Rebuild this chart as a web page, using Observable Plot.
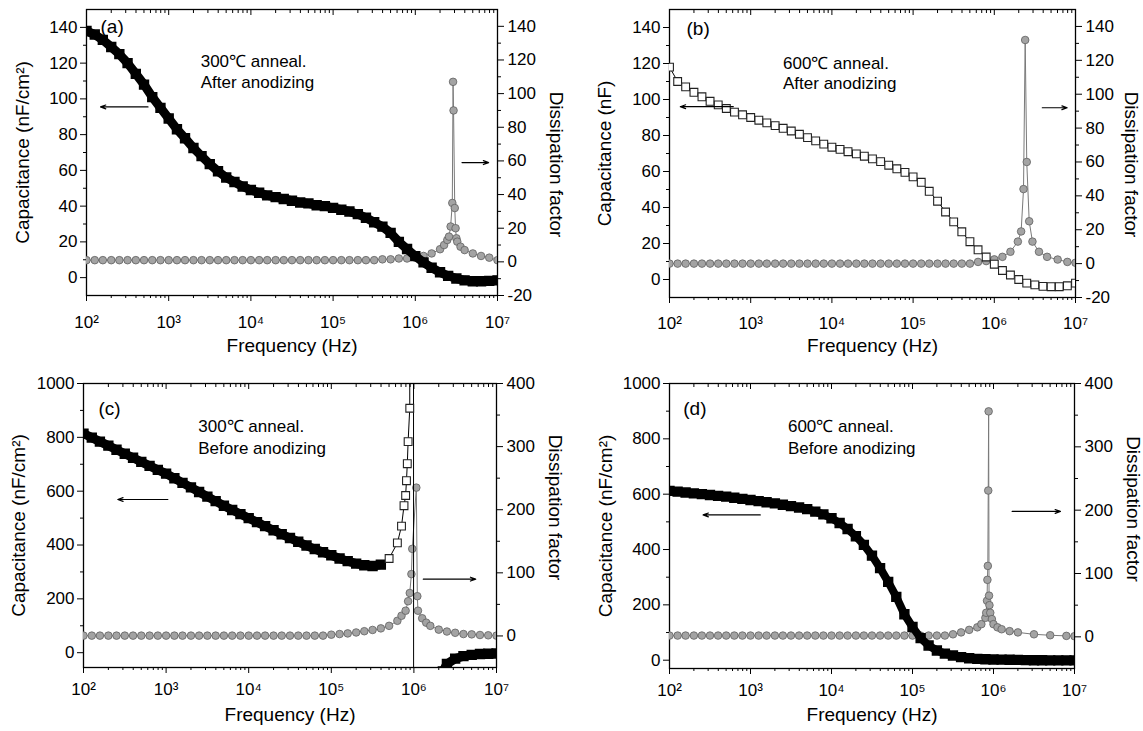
<!DOCTYPE html>
<html><head><meta charset="utf-8">
<script src="https://cdn.jsdelivr.net/npm/d3@7"></script>
<script src="https://cdn.jsdelivr.net/npm/@observablehq/plot@0.6"></script>
<style>
html,body{margin:0;padding:0;background:#fff;}
#fig{position:relative;width:1143px;height:731px;overflow:hidden;background:#fff;}
#fig > div{position:absolute;}
svg{overflow:visible;}
</style></head><body><div id="fig"></div>
<script>
// ---------- data ----------
const freq = [1e2,1.26e2,1.58e2,2e2,2.51e2,3.16e2,3.98e2,5.01e2,6.31e2,7.94e2,
  1e3,1.26e3,1.58e3,2e3,2.51e3,3.16e3,3.98e3,5.01e3,6.31e3,7.94e3,
  1e4,1.26e4,1.58e4,2e4,2.51e4,3.16e4,3.98e4,5.01e4,6.31e4,7.94e4,
  1e5,1.26e5,1.58e5,2e5,2.51e5,3.16e5,3.98e5,5.01e5,6.31e5,7.94e5,
  1e6,1.26e6,1.58e6,2e6,2.51e6,3.16e6,3.98e6,5.01e6,6.31e6,7.94e6,1e7];

const capA = [138,136,133,129,125,120,114,108,101,95,
  89,83,78,72.5,68,63.5,59.5,56,53.5,51,
  49,47.5,46,45,44,43,42,41.5,40.5,40,
  39,38,37,35.5,33.5,31,28.5,25,20,16,
  12,8.5,5.5,3,1,-0.5,-1.5,-2,-2,-1.8,-1.5];

const capB = [118,110,107,104,101.5,99,97,95,93,91.5,
  90,88.5,87,85.5,84,82.5,80.7,78.8,77,75.2,
  73.5,72.3,71,69.8,68.5,67,65.5,63.5,61.5,59.5,
  57,54,49,43.5,37.5,32,26.5,21,16.5,12.5,
  8.5,5,2.5,0,-2,-3,-3.8,-4,-4,-3.5,-2];

const capD = [612,609,606,603,600,597,594,591,587,583,
  579,575,571,567,562,557,552,546,537,527,
  513,496,474,448,417,378,333,283,229,166,
  120,80,53,35,24,17,11,7,5,3.5,
  2.5,2,1.5,1,0.5,0,0,-0.5,-0.5,-0.5,-0.5];

const capCFreq = [1e2,1.26e2,1.58e2,2e2,2.51e2,3.16e2,3.98e2,5.01e2,6.31e2,7.94e2,
  1e3,1.26e3,1.58e3,2e3,2.51e3,3.16e3,3.98e3,5.01e3,6.31e3,7.94e3,
  1e4,1.26e4,1.58e4,2e4,2.51e4,3.16e4,3.98e4,5.01e4,6.31e4,7.94e4,
  1e5,1.26e5,1.58e5,2e5,2.51e5,3.16e5,3.98e5,5.01e5,6.31e5,
  7.08e5,7.59e5,7.94e5,8.13e5,8.32e5,8.51e5,8.91e5,9.12e5,1e6,1.26e6,
  1.58e6,2e6,2.24e6,2.51e6,3.16e6,3.98e6,5.01e6,6.31e6,7.94e6,1e7];
const capC = [814,799,784,769,754,739,724,709,694,679,
  665,648,631,614,597,580,563,546,530,515,
  500,485,470,455,440,426,412,398,385,373,
  362,350,340,331,325,322,327,350,408,
  470,546,584,639,702,784,908,40000,-4000,-1500,
  -500,-150,-70,-42,-22,-13,-8,-5,-4,-3];

const dissAFreq = [1e2,1.26e2,1.58e2,2e2,2.51e2,3.16e2,3.98e2,5.01e2,6.31e2,7.94e2,
  1e3,1.26e3,1.58e3,2e3,2.51e3,3.16e3,3.98e3,5.01e3,6.31e3,7.94e3,
  1e4,1.26e4,1.58e4,2e4,2.51e4,3.16e4,3.98e4,5.01e4,6.31e4,7.94e4,
  1e5,1.26e5,1.58e5,2e5,2.51e5,3.16e5,3.98e5,5.01e5,6.31e5,7.94e5,
  1e6,1.26e6,1.58e6,2e6,2.24e6,2.45e6,2.57e6,2.69e6,2.82e6,2.88e6,
  2.92e6,3.02e6,3.09e6,3.16e6,3.24e6,3.55e6,3.98e6,5.01e6,6.31e6,7.94e6,1e7];
const dissA = [1,1,1,1,1,1,1,1,1,1,
  1,1,1,1,1,1,1,1,1,1,
  1,1,1,1,1,1,1,1,1,1,
  1,1,1,1,1,1,1.5,1.5,2,2,
  2.5,3.5,5,7.5,10,13,15,21,35,107,
  90,32,20,14,12,9,7,5,3.5,2.5,1];

const dissBFreq = [1e2,1.26e2,1.58e2,2e2,2.51e2,3.16e2,3.98e2,5.01e2,6.31e2,7.94e2,
  1e3,1.26e3,1.58e3,2e3,2.51e3,3.16e3,3.98e3,5.01e3,6.31e3,7.94e3,
  1e4,1.26e4,1.58e4,2e4,2.51e4,3.16e4,3.98e4,5.01e4,6.31e4,7.94e4,
  1e5,1.26e5,1.58e5,2e5,2.51e5,3.16e5,3.98e5,5.01e5,6.31e5,7.94e5,
  1e6,1.26e6,1.58e6,1.95e6,2.14e6,2.29e6,2.4e6,2.51e6,2.69e6,2.95e6,
  3.55e6,4.47e6,6.03e6,7.94e6,1e7];
const dissB = [0,0,0,0,0,0,0,0,0,0,
  0,0,0,0,0,0,0,0,0,0,
  0,0,0,0,0,0,0,0,0,0,
  0,0,0,0,0,0,0,0,1,1.5,
  2.5,4,7,13,19,44,132,60,25,13,
  7,4,2.4,1,0.5];

const dissCFreq = [1e2,1.26e2,1.58e2,2e2,2.51e2,3.16e2,3.98e2,5.01e2,6.31e2,7.94e2,
  1e3,1.26e3,1.58e3,2e3,2.51e3,3.16e3,3.98e3,5.01e3,6.31e3,7.94e3,
  1e4,1.26e4,1.58e4,2e4,2.51e4,3.16e4,3.98e4,5.01e4,6.31e4,7.94e4,
  1e5,1.26e5,1.58e5,2e5,2.51e5,3.16e5,3.98e5,5.01e5,6.31e5,
  7.08e5,7.94e5,8.51e5,8.91e5,9.33e5,9.55e5,1.07e6,1.10e6,1.12e6,1.26e6,
  1.41e6,1.58e6,2e6,2.51e6,3.16e6,3.98e6,5.01e6,6.31e6,7.94e6,1e7];
const dissC = [0.5,0.5,0.5,0.5,0.5,0.5,0.5,0.5,0.5,0.5,
  0.5,0.5,0.5,0.5,0.5,0.5,0.5,0.5,0.5,0.5,
  0.5,0.5,0.5,0.5,0.5,0.5,0.5,0.5,0.5,0.5,
  2,3,4,5.5,7.5,9.5,12,16,24,
  32,40,55,68,98,138,235,63,40,28,
  21,16,10,7,5,3,2.5,1.5,1,0.5];

const dissDFreq = [1e2,1.26e2,1.58e2,2e2,2.51e2,3.16e2,3.98e2,5.01e2,6.31e2,7.94e2,
  1e3,1.26e3,1.58e3,2e3,2.51e3,3.16e3,3.98e3,5.01e3,6.31e3,7.94e3,
  1e4,1.26e4,1.58e4,2e4,2.51e4,3.16e4,3.98e4,5.01e4,6.31e4,7.94e4,
  1e5,1.26e5,1.58e5,2e5,2.51e5,3.16e5,3.98e5,5.01e5,6.31e5,
  7.08e5,7.94e5,8.13e5,8.32e5,8.41e5,8.51e5,8.61e5,8.71e5,8.81e5,8.91e5,
  9.12e5,9.55e5,1e6,1.12e6,1.26e6,1.58e6,2e6,3.16e6,5.01e6,7.94e6,1e7];
const dissD = [2,2,2,2,2,2,2,2,2,2,
  2,2,2,2,2,2,2,2,2,2,
  2,2,2,2,2,2,2,2,2,2,
  2,2,2,2,2,4,7,11,15,
  20,30,38,57,90,112,231,356,65,50,
  38,28,20,15,12,9,7,4,2.5,1.5,1];

// ticks and labels
const xTicks = [1e2,1e3,1e4,1e5,1e6,1e7];
const xTickLabels = ["10²","10³","10⁴","10⁵","10⁶","10⁷"];
const capTicksAB = [0,20,40,60,80,100,120,140];
const capMinorAB = [10,30,50,70,90,110,130];
const dissTicksAB = [-20,0,20,40,60,80,100,120,140];
const dissMinorAB = [-10,10,30,50,70,90,110,130];
const capTicksCD = [0,200,400,600,800,1000];
const capMinorCD = [100,300,500,700,900];
const dissTicksCD = [0,100,200,300,400];
const dissMinorCD = [50,150,250,350];

const panelLetters = ["(a)","(b)","(c)","(d)"];
const annealText = ["300℃ anneal.","600℃ anneal.","300℃ anneal.","600℃ anneal."];
const stateText = ["After anodizing","After anodizing","Before anodizing","Before anodizing"];
const capTitles = ["Capacitance (nF/cm²)","Capacitance (nF)","Capacitance (nF/cm²)","Capacitance (nF/cm²)"];
const dissTitle = "Dissipation factor";
const freqTitle = "Frequency (Hz)";

// annotation anchor positions in data units (frequency, left-axis value)
const letterPos = [[1.48e2,140],[1.62e2,139],[1.52e2,907],[1.48e2,909]];
const notePos = [[2.45e3,121,109],[2.5e3,120,109],[2.45e3,840,758],[2.9e3,844,764]];
// arrows: from-frequency, to-frequency, value, axis
const arrowsA = [{from:5.6e2,to:1.48e2,v:95.5,axis:"L"},{from:3.7e6,to:7.8e6,v:59,axis:"R"}];
const arrowsB = [{from:6.1e2,to:1.36e2,v:96,axis:"L"},{from:3.9e6,to:7.9e6,v:92,axis:"R"}];
const arrowsC = [{from:1.05e3,to:2.6e2,v:569,axis:"L"},{from:1.3e6,to:5.6e6,v:90,axis:"R"}];
const arrowsD = [{from:1.32e3,to:2.6e2,v:525,axis:"L"},{from:1.7e6,to:6.7e6,v:198,axis:"R"}];

// ---------- drawing ----------
const FONT = '"Liberation Sans", Arial, Helvetica, sans-serif';
const xMinor = xTicks.slice(0,-1).flatMap(d => [2,3,4,5,6,7,8,9].map(m => m*d));
const xLabelMap = new Map(xTicks.map((d,i) => [d, xTickLabels[i]]));

function drawPanel(c) {
  const k = (c.L[1]-c.L[0])/(c.R[1]-c.R[0]);
  const toL = v => c.L[0] + (v - c.R[0]) * k;
  const fromL = y => c.R[0] + (y - c.L[0]) / k;
  const cap = c.capF.map((f,i) => ({f, v: c.capV[i], open: f >= c.open[0] && f <= c.open[1]}));
  const diss = c.dissF.map((f,i) => ({f, v: toL(c.dissV[i])}));
  const arrows = c.arrows.map(a => ({x1: a.from, x2: a.to, y: a.axis === "R" ? toL(a.v) : a.v}));
  const lp = letterPos[c.i], np = notePos[c.i];
  const rt = c.Rticks.map(toL), rm = c.Rminor.map(toL);
  return Plot.plot({
    width: c.w, height: c.h,
    marginTop: c.m[0], marginRight: c.m[1], marginBottom: c.m[2], marginLeft: c.m[3],
    x: {type: "log", domain: [1e2, 1e7]},
    y: {domain: c.L},
    style: {fontFamily: FONT, fontSize: "17px", color: "#000", background: "transparent", overflow: "visible"},
    marks: [
      Plot.axisX(xMinor, {anchor: "bottom", tickSize: 3, tickFormat: () => "", label: null}),
      Plot.axisX(xTicks, {anchor: "bottom", tickSize: 6, tickPadding: c.xpad, tickFormat: d => xLabelMap.get(d), label: null}),
      Plot.axisX(xMinor, {anchor: "top", tickSize: -3, tickFormat: () => "", label: null}),
      Plot.axisX(xTicks, {anchor: "top", tickSize: -5, tickFormat: () => "", label: null}),
      Plot.axisY(c.Lminor, {anchor: "left", tickSize: 3, tickFormat: () => "", label: null}),
      Plot.axisY(c.Lticks, {anchor: "left", tickSize: 6, tickPadding: 3, tickFormat: d => String(d), label: null}),
      Plot.axisY(rm, {anchor: "right", tickSize: 3, tickFormat: () => "", label: null}),
      Plot.axisY(rt, {anchor: "right", tickSize: 6, tickPadding: 4, tickFormat: d => String(Math.round(fromL(d))), label: null}),
      Plot.frame({stroke: "#000", strokeWidth: 1.3}),
      Plot.line(diss, {x: "f", y: "v", stroke: "#7a7a7a", strokeWidth: 1, clip: true}),
      Plot.dot(diss, {x: "f", y: "v", r: 3.8, fill: "#a3a3a3", stroke: "#606060", strokeWidth: 0.8, clip: true}),
      Plot.line(cap, {x: "f", y: "v", stroke: "#000", strokeWidth: 1, clip: true}),
      Plot.line(cap, {x: "f", y: d => d.open ? NaN : d.v, stroke: "#000", strokeWidth: c.band, clip: true}),
      Plot.dot(cap.filter(d => !d.open), {x: "f", y: "v", symbol: "square", r: 5, fill: "#000", stroke: "#000", clip: true}),
      Plot.dot(cap.filter(d => d.open), {x: "f", y: "v", symbol: "square", r: 4.4, fill: "#fff", stroke: "#222", strokeWidth: 1.1, clip: true}),
      Plot.arrow(arrows, {x1: "x1", x2: "x2", y1: "y", y2: "y", stroke: "#000", strokeWidth: 1.2, headLength: 7, headAngle: 40}),
      Plot.text([panelLetters[c.i]], {x: () => lp[0], y: () => lp[1], text: d => d, textAnchor: "start", fontSize: 19}),
      Plot.text([annealText[c.i], stateText[c.i]], {x: () => np[0], y: (d,i) => np[1+i], text: d => d, textAnchor: "start", fontSize: 17}),
      Plot.text([capTitles[c.i]], {frameAnchor: "left", rotate: -90, textAnchor: "middle", dx: c.ldx, text: d => d, fontSize: 19}),
      Plot.text([dissTitle], {frameAnchor: "right", rotate: 90, textAnchor: "middle", dx: c.rdx, dy: c.rdy, text: d => d, fontSize: 19}),
      Plot.text([freqTitle], {frameAnchor: "bottom", textAnchor: "middle", dy: c.xdy, text: d => d, fontSize: 19})
    ]
  });
}

const panels = [
  {i:0, left:0, top:0, w:571, h:362, m:[9,74,67,86], L:[-10,150], R:[-20,150],
   capF:freq, capV:capA, dissF:dissAFreq, dissV:dissA, open:[Infinity,Infinity], band:9,
   Lticks:capTicksAB, Lminor:capMinorAB, Rticks:dissTicksAB, Rminor:dissMinorAB,
   arrows:arrowsA, xpad:14, ldx:-64, rdx:59, rdy:12, xdy:56},
  {i:1, left:571, top:0, w:572, h:362, m:[9,68,65,98], L:[-10,150], R:[-20,150],
   capF:freq, capV:capB, dissF:dissBFreq, dissV:dissB, open:[0,Infinity], band:1,
   Lticks:capTicksAB, Lminor:capMinorAB, Rticks:dissTicksAB, Rminor:dissMinorAB,
   arrows:arrowsB, xpad:13, ldx:-65, rdx:56, rdy:11, xdy:54},
  {i:2, left:0, top:362, w:571, h:369, m:[21,75,64,83], L:[-55,1000], R:[-50,400],
   capF:capCFreq, capV:capC, dissF:dissCFreq, dissV:dissC, open:[5e5,1.5e6], band:9,
   Lticks:capTicksCD, Lminor:capMinorCD, Rticks:dissTicksCD, Rminor:dissMinorCD,
   arrows:arrowsC, xpad:9, ldx:-65, rdx:59, rdy:-18, xdy:53},
  {i:3, left:571, top:362, w:572, h:369, m:[21,69,63,98], L:[-30,1000], R:[-50,400],
   capF:freq, capV:capD, dissF:dissDFreq, dissV:dissD, open:[Infinity,Infinity], band:8,
   Lticks:capTicksCD, Lminor:capMinorCD, Rticks:dissTicksCD, Rminor:dissMinorCD,
   arrows:arrowsD, xpad:9, ldx:-64, rdx:59, rdy:-17, xdy:52}
];

const fig = document.getElementById("fig");
for (const p of panels) {
  const div = document.createElement("div");
  div.style.left = p.left + "px";
  div.style.top = p.top + "px";
  div.appendChild(drawPanel(p));
  fig.appendChild(div);
}
</script></body></html>
